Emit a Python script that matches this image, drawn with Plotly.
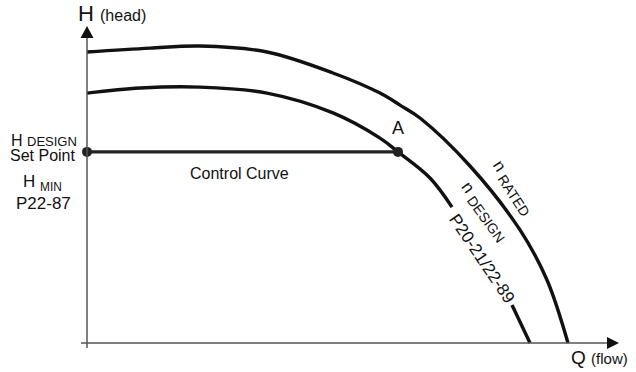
import plotly.graph_objects as go

# Pump curves: head H against flow Q (arbitrary schematic units)
q_rated = [0, 12.6, 22.6, 36.0, 49.2, 58.6, 62.6, 66.6, 76.6, 86.6, 92.0, 96.2]
h_rated = [97.0, 98.3, 99.0, 97.0, 90.0, 83.3, 79.3, 75.0, 59.0, 37.7, 21.0, 0]

# Design-speed curve, broken where its label sits
q_design = [0, 10.6, 22.6, 36.0, 49.2, 58.6, 62.2, 68.6, 73.0, None, 85.0, 88.6]
h_design = [83.3, 85.0, 85.3, 83.3, 76.7, 68.3, 63.7, 55.0, 45.3, None, 12.7, 0]

# Constant-pressure control curve from the set point to operating point A
h_set = 63.7
q_a = 62.2
q_control = [0, q_a]
h_control = [h_set, h_set]

W, H = 636, 372
L, R, T, B = 77, 0, 25, 20
PW, PH = W - L - R, H - T - B


def px(x):
    return (x - L) / PW


def py(y):
    return (H - B - y) / PH


FONT = "Liberation Sans, Arial, sans-serif"
INK = "#111111"

fig = go.Figure()
fig.add_trace(go.Scatter(x=q_rated, y=h_rated, mode="lines",
                         line=dict(color=INK, width=3.4, shape="spline", smoothing=1.0),
                         hoverinfo="skip"))
fig.add_trace(go.Scatter(x=q_design, y=h_design, mode="lines", connectgaps=False,
                         line=dict(color=INK, width=3.4, shape="spline", smoothing=1.0),
                         hoverinfo="skip"))
fig.add_trace(go.Scatter(x=q_control, y=h_control, mode="lines+markers",
                         line=dict(color="#222222", width=3.2),
                         marker=dict(color="#222222", size=10),
                         hoverinfo="skip"))

axis_col = "#555555"
shapes = [
    # H axis with arrow
    dict(type="line", xref="paper", yref="paper", x0=px(87), x1=px(87), y0=py(348), y1=py(36),
         line=dict(color=axis_col, width=1.5)),
    dict(type="path", xref="paper", yref="paper", fillcolor=INK, line=dict(width=0),
         path=f"M {px(80.5)} {py(38)} L {px(87)} {py(26)} L {px(93.5)} {py(38)} Z"),
    # Q axis with arrow
    dict(type="line", xref="paper", yref="paper", x0=px(81), x1=px(609), y0=py(343), y1=py(343),
         line=dict(color=axis_col, width=1.5)),
    dict(type="path", xref="paper", yref="paper", fillcolor=INK, line=dict(width=0),
         path=f"M {px(607)} {py(337)} L {px(619)} {py(343)} L {px(607)} {py(349)} Z"),
]


def label(text, x, y, size, xanchor="center", angle=0):
    return dict(text=text, xref="paper", yref="paper", x=px(x), y=py(y),
                xanchor=xanchor, yanchor="middle", showarrow=False, textangle=angle,
                font=dict(family=FONT, size=size, color=INK), borderpad=0)


annotations = [
    label("H <span style='font-size:16px'>(head)</span>", 77, 13, 22, xanchor="left"),
    label("Q <span style='font-size:15px'>(flow)</span>", 570, 357, 19, xanchor="left"),
    label("H <span style='font-size:13px'>DESIGN</span>", 44, 140, 16),
    label("Set Point", 42, 155, 16),
    label("H <sub>MIN</sub>", 42, 183, 17),
    label("P22-87", 43, 203, 17),
    label("Control Curve", 239, 173, 16),
    label("A", 398, 128, 18),
    label("n <sub><span style='font-size:14px'>RATED</span></sub>", 512, 188, 17, angle=57),
    label("n <sub><span style='font-size:14px'>DESIGN</span></sub>", 484, 212, 17, angle=54),
    label("P20-21/22-89", 482, 258, 17, angle=56),
]

fig.update_layout(
    width=W, height=H, autosize=False,
    margin=dict(l=L, r=R, t=T, b=B),
    paper_bgcolor="white", plot_bgcolor="white",
    showlegend=False,
    xaxis=dict(range=[-2, -2 + PW / 5], visible=False, fixedrange=True),
    yaxis=dict(range=[-3, -3 + PH / 3], visible=False, fixedrange=True),
    shapes=shapes, annotations=annotations,
)

fig.write_html("out.html", config=dict(displayModeBar=False))
